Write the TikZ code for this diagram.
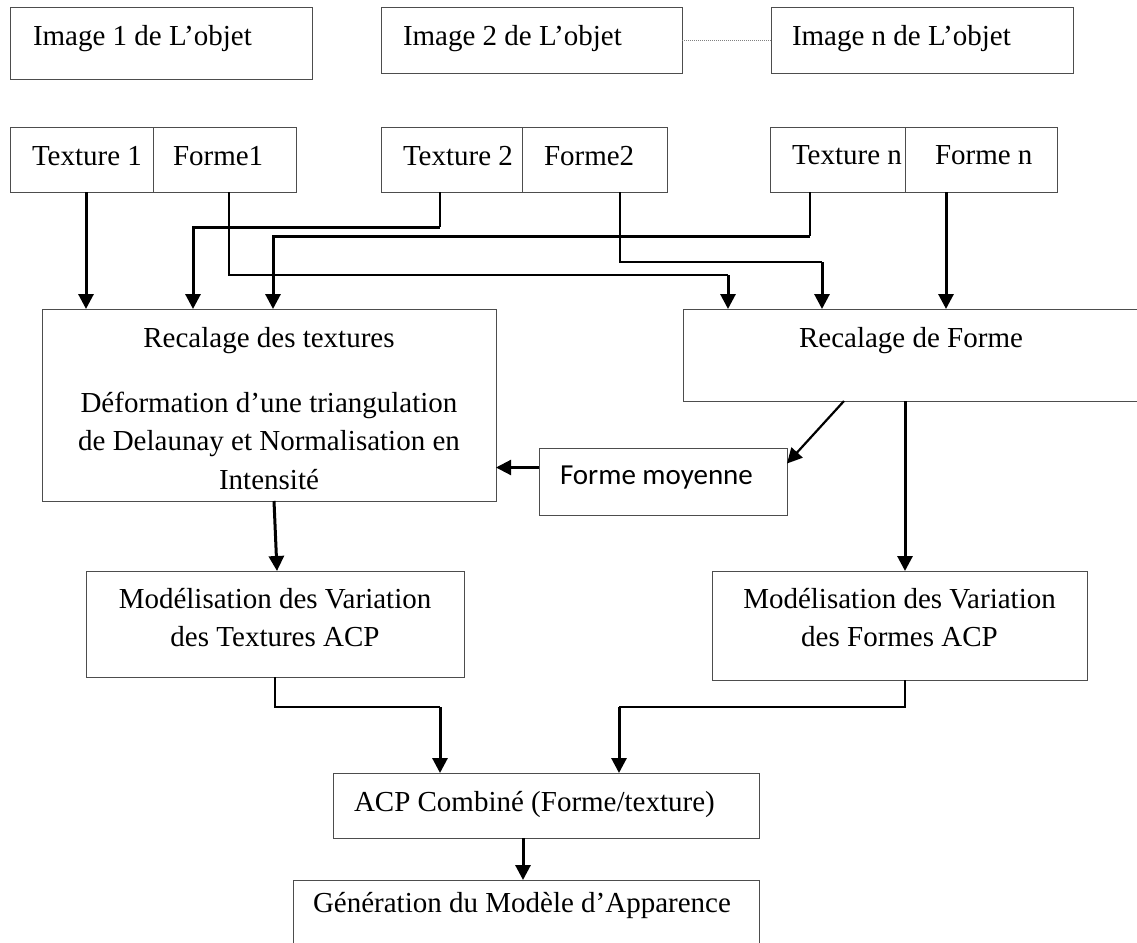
\documentclass[tikz,border=0pt]{standalone}
\usepackage{fontspec}
\setmainfont{Liberation Serif}
\newfontfamily\sansmoy{Carlito}
\usepackage{tikz}
\usetikzlibrary{arrows.meta,positioning,calc}
\definecolor{grisBord}{HTML}{4D4D4D}
% boite a texte : largeur, hauteur, marge gauche, marge haute, texte
\newcommand{\boiteg}[5]{\parbox[c][#2pt][t]{#1pt}{\vspace*{#4pt}\hspace*{#3pt}\mbox{#5}}}
% boite a texte centre : largeur, hauteur, marge haute, texte
\newcommand{\boitec}[4]{\parbox[c][#2pt][t]{#1pt}{\centering\vspace*{#3pt}#4\par}}

\begin{document}
\begin{tikzpicture}[x=1pt,y=-1pt,
  cadre/.style={draw=grisBord,line width=1pt,inner sep=0pt,outer sep=0pt,
    anchor=north west,font=\fontsize{29}{38.5}\selectfont},
  fleche/.style={-{Triangle[length=15pt,width=15pt]},line width=3pt},
  fin/.style={line width=1.2pt},
  pointille/.style={densely dotted,line width=1pt,draw=gray}]
  \path[use as bounding box,fill=white] (0,0) rectangle (1137,942);
  \clip (0,0) rectangle (1137,942);
  % images
  \node[cadre] (img1) at (10,8) {\boiteg{302}{71}{23}{17}{Image 1 de L’objet}};
  \node[cadre] (img2) at (381,8) {\boiteg{301}{65}{22}{17}{Image 2 de L’objet}};
  \node[cadre] (imgn) at (771,8) {\boiteg{302}{65}{21}{17}{Image n de L’objet}};
  \draw[pointille] (img2.east) -- (imgn.west);
  % texture / forme
  \node[cadre] (tex1) at (10,127) {\boiteg{143}{65}{22}{19}{Texture 1}};
  \node[cadre] (frm1) at (tex1.north east) {\boiteg{143}{65}{20}{19}{Forme1}};
  \node[cadre] (tex2) at (381,127) {\boiteg{141}{65}{22}{19}{Texture 2}};
  \node[cadre] (frm2) at (tex2.north east) {\boiteg{145}{65}{22}{19}{Forme2}};
  \node[cadre] (texn) at (770,127) {\boiteg{135}{65}{22}{19}{Texture n}};
  \node[cadre] (frmn) at (texn.north east) {\boiteg{152}{65}{30}{19}{Forme n}};
  % recalage
  \node[cadre] (recTex) at (42,309) {\boitec{454}{192}{18}{Recalage des textures\\[26.5pt]
    Déformation d’une triangulation\\ de Delaunay et Normalisation en\\ Intensité}};
  \node[cadre] (recFrm) at (683,309) {\boitec{456}{92}{18}{Recalage de Forme}};
  \node[cadre,font=\sansmoy\fontsize{29}{34}\selectfont] (moy) at (539,448)
    {\boiteg{248}{67}{21}{18}{Forme moyenne}};
  % ACP
  \node[cadre] (modTex) at (86,571) {\boitec{378}{106}{17}{Modélisation des Variation\\ des Textures ACP}};
  \node[cadre] (modFrm) at (712,571) {\boitec{375}{109}{17}{Modélisation des Variation\\ des Formes ACP}};
  \node[cadre] (acp) at (333,773) {\boiteg{426}{65}{21}{18}{ACP Combiné (Forme/texture)}};
  \node[cadre] (gen) at (293,880) {\boiteg{466}{90}{20}{12}{Génération du Modèle d’Apparence}};
  % points de passage
  \coordinate (t1) at (86,0);
  \coordinate (f1a) at (229,275);
  \coordinate (f1b) at (728,275);
  \coordinate (t2a) at (440,227);
  \coordinate (t2b) at (193,227);
  \coordinate (tna) at (810,236);
  \coordinate (tnb) at (273,236);
  \coordinate (f2a) at (620,262);
  \coordinate (f2b) at (822,262);
  \coordinate (fn) at (946,0);
  \coordinate (dg) at (844,0);
  \coordinate (v2) at (905,0);
  \coordinate (m1) at (440,707);
  \coordinate (m2) at (619,707);
  \coordinate (x5) at (523,0);
  % vers les recalages
  \draw[fleche] (tex1.south -| t1) -- (recTex.north -| t1);
  \draw[fin] (frm1.south -| f1a) -- (f1a) -- (f1b);
  \draw[fleche] (f1b) -- (recFrm.north -| f1b);
  \draw[fin] (tex2.south -| t2a) -- (t2a);
  \draw[fleche] (t2a) -- (t2b) -- (recTex.north -| t2b);
  \draw[fin] (texn.south -| tna) -- (tna);
  \draw[fleche] (tna) -- (tnb) -- (recTex.north -| tnb);
  \draw[fin] (frm2.south -| f2a) -- (f2a) -- (f2b);
  \draw[fleche] (f2b) -- (recFrm.north -| f2b);
  \draw[fleche] (frmn.south -| fn) -- (recFrm.north -| fn);
  % forme moyenne
  \coordinate (mw) at ([yshift=14]moy.west);
  \draw[fleche,line width=2.2pt] (recFrm.south -| dg) -- ([yshift=18]moy.east);
  \draw[fleche,line width=2.2pt] (mw) -- (recTex.east |- mw);
  % vers les modelisations
  \draw[fleche] ([xshift=5]recTex.south) -- ([xshift=2]modTex.north);
  \draw[fleche] (recFrm.south -| v2) -- (modFrm.north -| v2);
  % vers ACP combine
  \draw[fin] (modTex.south) |- (m1);
  \draw[fleche] (m1) -- (acp.north -| m1);
  \draw[fin] (modFrm.south -| v2) |- (m2);
  \draw[fleche] (m2) -- (acp.north -| m2);
  \draw[fleche] (acp.south -| x5) -- (gen.north -| x5);
\end{tikzpicture}
\end{document}
